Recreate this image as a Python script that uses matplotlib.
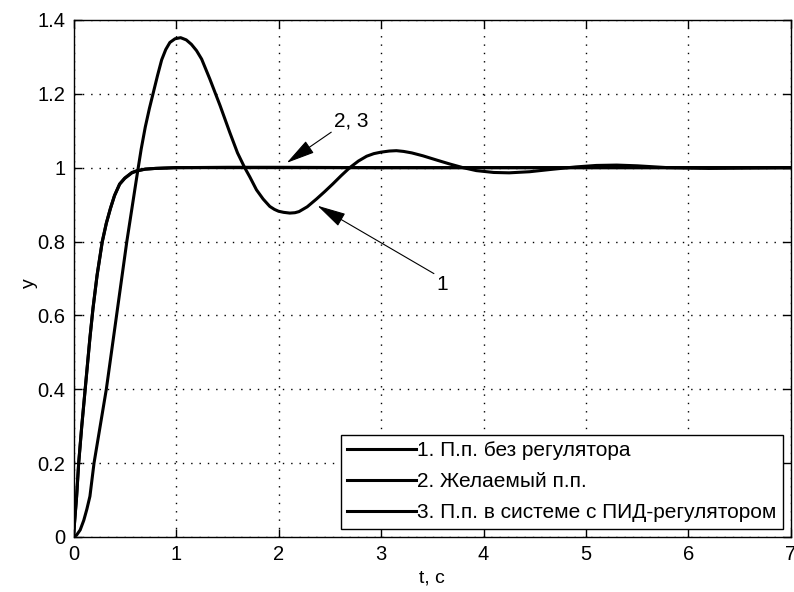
import matplotlib
matplotlib.use("Agg")
import matplotlib.pyplot as plt

plt.rcParams["font.family"] = ["Liberation Sans", "DejaVu Sans"]

# 1. step response without controller
t_plain = [0, 0.03, 0.065, 0.1, 0.13, 0.16, 0.2, 0.26, 0.32, 0.37, 0.42, 0.47,
           0.52, 0.57, 0.62, 0.66, 0.70, 0.74, 0.78, 0.82, 0.86, 0.90, 0.94,
           0.99, 1.045, 1.10, 1.15, 1.20, 1.25, 1.33, 1.43, 1.525, 1.6, 1.67,
           1.72, 1.785, 1.85, 1.915, 1.96, 2.0, 2.05, 2.11, 2.16, 2.2, 2.28,
           2.37, 2.45, 2.53, 2.61, 2.695, 2.78, 2.86, 2.93, 3.0, 3.08, 3.15,
           3.22, 3.3, 3.41, 3.55, 3.67, 3.8, 3.93, 4.1, 4.25, 4.45, 4.65, 4.9,
           5.1, 5.3, 5.5, 5.8, 6.2, 6.6, 7.0]
y_plain = [0, 0.005, 0.019, 0.045, 0.075, 0.11, 0.2, 0.3, 0.4, 0.5, 0.6, 0.7,
           0.8, 0.89, 0.98, 1.05, 1.11, 1.16, 1.205, 1.25, 1.292, 1.32, 1.339,
           1.349, 1.352, 1.346, 1.334, 1.317, 1.294, 1.24, 1.168, 1.095, 1.04,
           1.0, 0.975, 0.94, 0.915, 0.895, 0.887, 0.882, 0.879, 0.877, 0.878,
           0.881, 0.894, 0.915, 0.935, 0.956, 0.978, 1.0, 1.018, 1.031, 1.038,
           1.042, 1.045, 1.046, 1.044, 1.04, 1.032, 1.02, 1.01, 1.0, 0.992,
           0.987, 0.986, 0.989, 0.995, 1.002, 1.006, 1.007, 1.005, 1.0, 0.998,
           0.999, 1.0]

# 2. desired step response
t_wanted = [0, 0.01, 0.03, 0.05, 0.08, 0.12, 0.16, 0.19, 0.23, 0.28, 0.32,
            0.36, 0.40, 0.45, 0.50, 0.57, 0.62, 0.70, 0.8, 1.0, 1.5, 2.0, 3.0,
            4.0, 5.0, 6.0, 7.0]
y_wanted = [0, 0.04, 0.11, 0.2, 0.3, 0.42, 0.54, 0.62, 0.71, 0.8, 0.85,
            0.89, 0.925, 0.956, 0.972, 0.987, 0.992, 0.996, 0.998, 1.0, 1.0,
            1.0, 1.0, 1.0, 1.0, 1.0, 1.0]

# 3. step response with PID controller (practically the same as 2)
t_pid = [0, 0.01, 0.03, 0.05, 0.08, 0.12, 0.16, 0.19, 0.23, 0.28, 0.32,
         0.36, 0.40, 0.45, 0.50, 0.57, 0.62, 0.70, 0.8, 1.0, 1.5, 2.0, 3.0,
         4.0, 5.0, 6.0, 7.0]
y_pid = [0, 0.038, 0.108, 0.198, 0.298, 0.418, 0.538, 0.618, 0.708, 0.798,
         0.849, 0.889, 0.924, 0.955, 0.971, 0.986, 0.991, 0.996, 0.998, 1.0,
         1.001, 1.001, 1.0, 1.0, 1.0, 1.0, 1.0]

labels = ["1. П.п. без регулятора",
          "2. Желаемый п.п.",
          "3. П.п. в системе с ПИД-регулятором"]

x_ticks = [0, 1, 2, 3, 4, 5, 6, 7]
y_ticks = [0, 0.2, 0.4, 0.6, 0.8, 1.0, 1.2, 1.4]
y_tick_labels = ["0", "0.2", "0.4", "0.6", "0.8", "1", "1.2", "1.4"]

fig = plt.figure(figsize=(7.94, 5.92), dpi=100)
ax = fig.add_axes([0.0926, 0.093, 0.9036, 0.8733])

ax.plot(t_plain, y_plain, color="black", linewidth=2.2, label=labels[0])
ax.plot(t_wanted, y_wanted, color="black", linewidth=2.2, label=labels[1])
ax.plot(t_pid, y_pid, color="black", linewidth=2.2, label=labels[2])

ax.set_xlim(0, 7)
ax.set_ylim(0, 1.4)
ax.set_xticks(x_ticks)
ax.set_yticks(y_ticks)
ax.set_yticklabels(y_tick_labels)
ax.tick_params(direction="in", length=6, width=1, top=True, right=True,
               labelsize=14.5, pad=6)
ax.grid(True, color="black", linestyle=(0, (1, 5)), linewidth=1)
for s in ax.spines.values():
    s.set_linewidth(1)

ax.set_xlabel("t, c", fontsize=14, labelpad=4)
ax.set_ylabel("y", fontsize=14)
ax.yaxis.set_label_coords(-0.05, 0.49)

arrow = dict(arrowstyle="-|>,head_length=1.2,head_width=0.3", color="black",
             linewidth=0.8, shrinkA=0, shrinkB=0)
ax.annotate("2, 3", xy=(2.08, 1.013), xytext=(2.71, 1.127), fontsize=15,
            ha="center", va="center", arrowprops=dict(arrow, relpos=(0.0, 0.0)))
ax.annotate("1", xy=(2.38, 0.897), xytext=(3.6, 0.683), fontsize=15,
            ha="center", va="center", arrowprops=dict(arrow, relpos=(0.0, 1.0)))

leg = ax.legend(loc="lower right", fontsize=15, frameon=True, fancybox=False,
                edgecolor="black", framealpha=1, borderaxespad=0.4,
                handlelength=3.3, handletextpad=0.05, labelspacing=0.58,
                borderpad=0.3)
leg.get_frame().set_linewidth(1)

fig.savefig("out.png", dpi=100)
